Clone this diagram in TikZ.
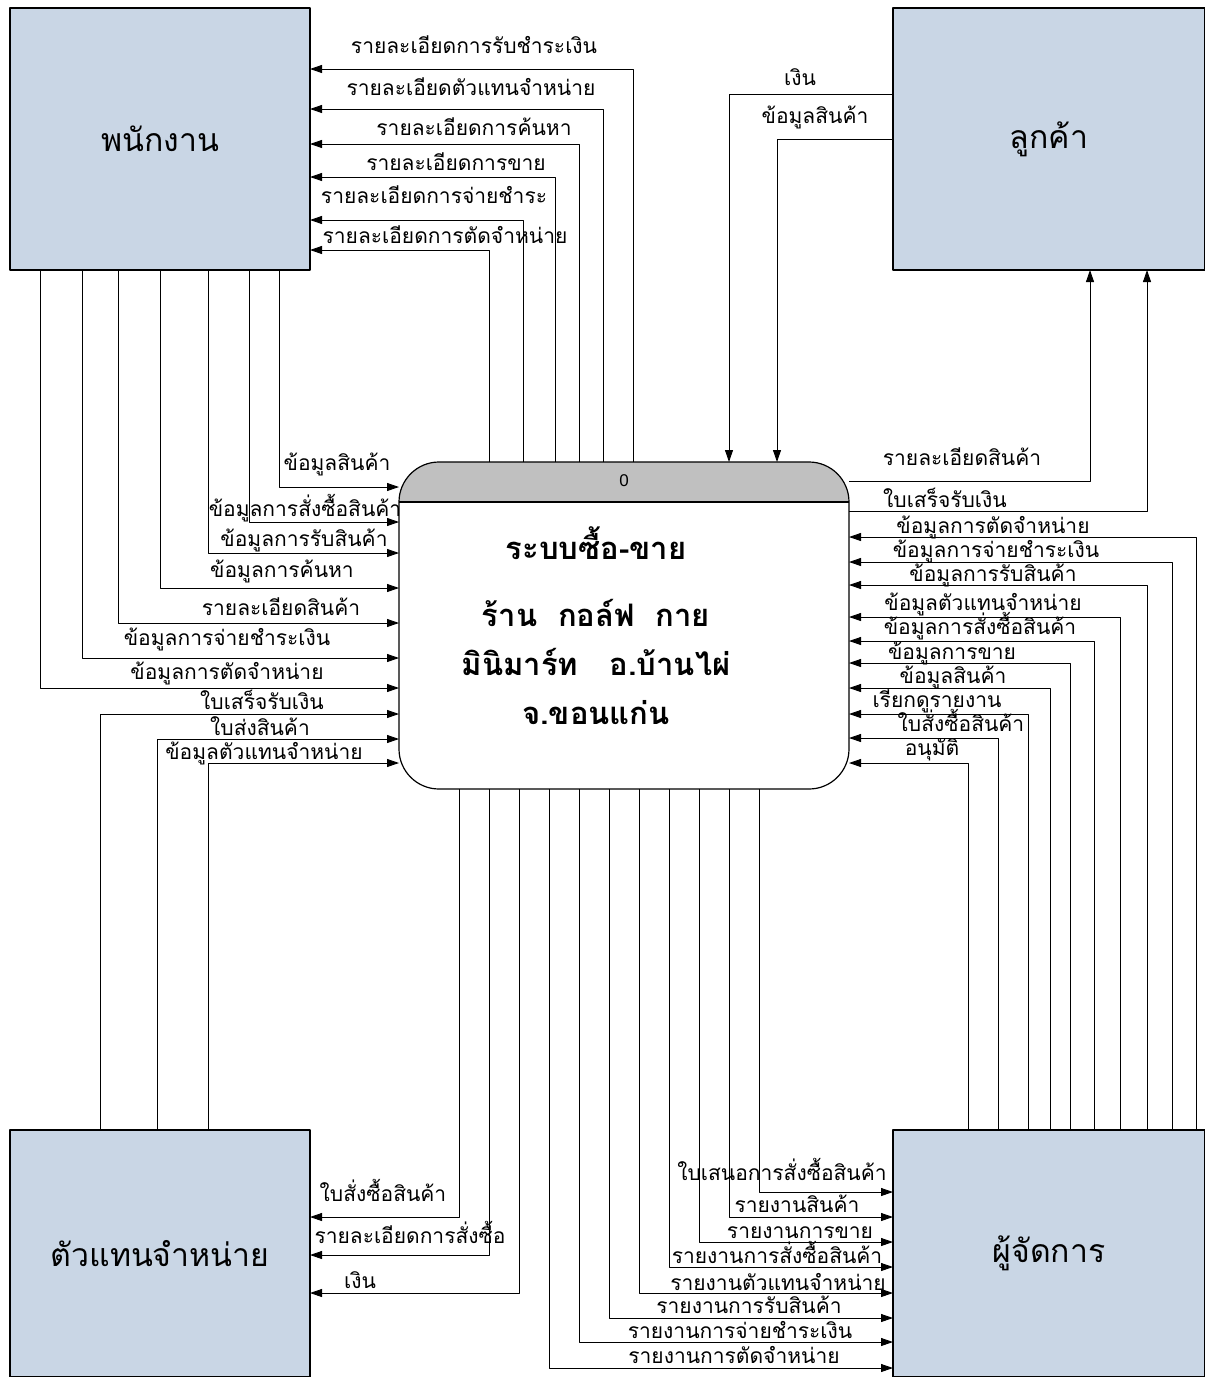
\documentclass[tikz,border=0pt]{standalone}
\usepackage{fontspec}
\setmainfont[Script=Thai]{Loma}
\newfontfamily\latinfont{Liberation Sans}
\usetikzlibrary{arrows.meta}
\definecolor{entblue}{RGB}{201,214,229}
\definecolor{hdrgray}{RGB}{192,192,192}
\tikzset{
	entity/.style={draw, fill=entblue, line width=1.2pt, inner sep=0pt, outer sep=0pt, font=\fontsize{32}{36}\selectfont},
	flow/.style={->, line width=0.9pt},
	lbl/.style={anchor=base, inner sep=0pt, font=\fontsize{21}{23}\selectfont},
}
\begin{document}
\begin{tikzpicture}[x=1pt, y=-1pt, line join=round, >={Triangle[length=12pt,width=8pt]}]
	\useasboundingbox (0,0) rectangle (1205,1377);
	\node[entity, minimum width=300pt, minimum height=262pt] (emp) at (160,139) {พนักงาน};
	\node[entity, minimum width=312pt, minimum height=262pt] (cust) at (1049,139) {ลูกค้า};
	\node[entity, minimum width=300pt, minimum height=247pt] (dealer) at (160,1253.5) {ตัวแทนจำหน่าย};
	\node[entity, minimum width=312pt, minimum height=247pt] (mgr) at (1049,1253.5) {ผู้จัดการ};
	\node[minimum width=450pt, minimum height=327pt, inner sep=0pt, outer sep=0pt] (proc) at (624,625.5) {};
	\begin{scope}
		\clip[rounded corners=40pt] (proc.south west) rectangle (proc.north east);
		\fill[hdrgray] (proc.north west) rectangle (proc.east |- 0,502);
	\end{scope}
	\draw[line width=1.2pt, rounded corners=40pt] (proc.south west) rectangle (proc.north east);
	\draw[line width=1.2pt] (proc.west |- 0,502) -- (proc.east |- 0,502);
	\node[font=\latinfont\fontsize{17}{19}\selectfont] (pnum) at (624,481) {0};
	\node[align=center, font=\bfseries\fontsize{31}{49}\selectfont] (ptitle) at (596,626) {ระบบซื้อ-ขาย\\[18pt] ร้าน~~กอล์ฟ~~กาย\\ มินิมาร์ท~~~อ.บ้านไผ่\\ จ.ขอนแก่น};
	\foreach \vx/\hy/\lx/\ly/\t [count=\i] in {633/69/474/53/รายละเอียดการรับชำระเงิน, 603/109/471/95/รายละเอียดตัวแทนจำหน่าย, 579/144/474/135/รายละเอียดการค้นหา, 555/177/456/170/รายละเอียดการขาย, 523/220/434/203/รายละเอียดการจ่ายชำระ, 489/250/445/243/รายละเอียดการตัดจำหน่าย}{
		\draw[flow] (proc.north -| \vx,0) |- (emp.east |- 0,\hy);
		\node[lbl] (pe\i) at (\lx,\ly) {\t};
	}
	\foreach \vx/\hy/\lx/\ly/\t [count=\i] in {279/487/337/470/ข้อมูลสินค้า, 249/522/305/516/ข้อมูลการสั่งซื้อสินค้า, 208/553/304/546/ข้อมูลการรับสินค้า, 160/588/282/577/ข้อมูลการค้นหา, 118/623/281/615/รายละเอียดสินค้า, 82/658/227/645/ข้อมูลการจ่ายชำระเงิน, 40/688/227/679/ข้อมูลการตัดจำหน่าย}{
		\draw[flow] (emp.south -| \vx,0) |- (proc.west |- 0,\hy);
		\node[lbl] (ep\i) at (\lx,\ly) {\t};
	}
	\foreach \vx/\hy/\lx/\ly/\t [count=\i] in {100/714/262/709/ใบเสร็จรับเงิน, 157/739/260/735/ใบส่งสินค้า, 208/763/264/759/ข้อมูลตัวแทนจำหน่าย}{
		\draw[flow] (dealer.north -| \vx,0) |- (proc.west |- 0,\hy);
		\node[lbl] (dp\i) at (\lx,\ly) {\t};
	}
	\foreach \vx/\hy/\lx/\ly/\t [count=\i] in {1196/537/993/533/ข้อมูลการตัดจำหน่าย, 1172/562/996/557/ข้อมูลการจ่ายชำระเงิน, 1147/585/993/581/ข้อมูลการรับสินค้า, 1120/617/983/610/ข้อมูลตัวแทนจำหน่าย, 1094/641/980/634/ข้อมูลการสั่งซื้อสินค้า, 1070/663/952/659/ข้อมูลการขาย, 1050/688/953/683/ข้อมูลสินค้า, 1028/714/937/707/เรียกดูรายงาน, 998/738/961/731/ใบสั่งซื้อสินค้า, 968/763/932/755/อนุมัติ}{
		\draw[flow] (mgr.north -| \vx,0) |- (proc.east |- 0,\hy);
		\node[lbl] (mp\i) at (\lx,\ly) {\t};
	}
	\foreach \vx/\hy/\lx/\ly/\t [count=\i] in {1090/481/962/465/รายละเอียดสินค้า, 1147/511/945/507/ใบเสร็จรับเงิน}{
		\draw[flow] (proc.east |- 0,\hy) -| (cust.south -| \vx,0);
		\node[lbl] (pc\i) at (\lx,\ly) {\t};
	}
	\foreach \vx/\hy/\lx/\ly/\t [count=\i] in {729/94/800/85/เงิน, 777/139/815/123/ข้อมูลสินค้า}{
		\draw[flow] (cust.west |- 0,\hy) -| (proc.north -| \vx,0);
		\node[lbl] (cp\i) at (\lx,\ly) {\t};
	}
	\foreach \vx/\hy/\lx/\ly/\t [count=\i] in {459/1217/383/1201/ใบสั่งซื้อสินค้า, 489/1255/410/1243/รายละเอียดการสั่งซื้อ, 519/1293/360/1288/เงิน}{
		\draw[flow] (proc.south -| \vx,0) |- (dealer.east |- 0,\hy);
		\node[lbl] (pd\i) at (\lx,\ly) {\t};
	}
	\foreach \vx/\hy/\lx/\ly/\t [count=\i] in {759/1192/782/1180/ใบเสนอการสั่งซื้อสินค้า, 729/1217/797/1212/รายงานสินค้า, 699/1242/800/1238/รายงานการขาย, 669/1267/777/1263/รายงานการสั่งซื้อสินค้า, 639/1293/778/1290/รายงานตัวแทนจำหน่าย, 609/1318/749/1313/รายงานการรับสินค้า, 579/1342/740/1338/รายงานการจ่ายชำระเงิน, 549/1368/734/1363/รายงานการตัดจำหน่าย}{
		\draw[flow] (proc.south -| \vx,0) |- (mgr.west |- 0,\hy);
		\node[lbl] (pm\i) at (\lx,\ly) {\t};
	}
\end{tikzpicture}
\end{document}
